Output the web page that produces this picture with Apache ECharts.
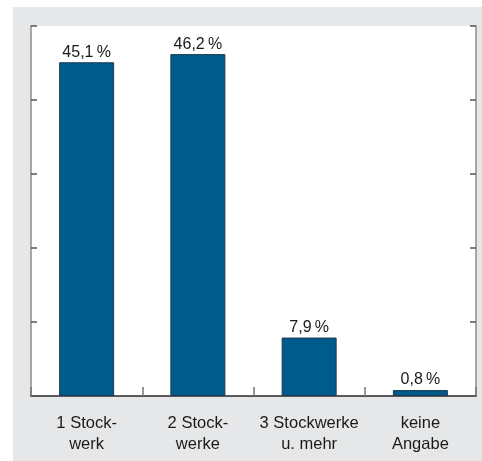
<!DOCTYPE html>
<html>
<head>
<meta charset="utf-8">
<style>
  html, body { margin: 0; padding: 0; background: #ffffff; }
  #chart { width: 482px; height: 461px; }
</style>
<script src="https://cdn.jsdelivr.net/npm/echarts@6/dist/echarts.min.js"></script>
</head>
<body>
<div id="chart"></div>
<script>
// Geschossigkeit: share of buildings by number of storeys
const categories = ['1 Stock-\nwerk', '2 Stock-\nwerke', '3 Stockwerke\nu. mehr', 'keine\nAngabe'];
const shares = [45.1, 46.2, 7.9, 0.8];
const valueTicks = [0, 10, 20, 30, 40, 50];

const fmt = v => v.toFixed(1).replace('.', ',') + '\u2009%';

const chart = echarts.init(document.getElementById('chart'));
const sideAxis = {
  type: 'value',
  min: valueTicks[0],
  max: valueTicks[valueTicks.length - 1],
  interval: valueTicks[1] - valueTicks[0],
  axisLine: { show: true, lineStyle: { color: '#8c8c8c', width: 1.5 } },
  axisTick: { show: true, inside: true, length: 6, lineStyle: { color: '#555', width: 1.5 } },
  axisLabel: { show: false },
  splitLine: { show: false }
};

chart.setOption({
  animation: false,
  backgroundColor: '#ffffff',
  graphic: [{
    type: 'rect',
    z: -10,
    shape: { x: 13, y: 7, width: 469, height: 454 },
    style: { fill: '#e6e7e8' }
  }],
  grid: {
    left: 31, right: 6, top: 26, bottom: 65,
    show: true, backgroundColor: '#ffffff', borderWidth: 0
  },
  xAxis: {
    type: 'category',
    data: categories,
    axisLine: { lineStyle: { color: '#2a2a2a', width: 1.5 } },
    axisTick: { show: true, inside: true, length: 9, alignWithLabel: false, lineStyle: { color: '#777', width: 1.5 } },
    axisLabel: {
      color: '#1a1a1a', fontFamily: 'Liberation Sans, Arial, sans-serif',
      fontSize: 16.5, lineHeight: 21, margin: 17, interval: 0
    }
  },
  yAxis: [
    Object.assign({ position: 'left' }, sideAxis),
    Object.assign({ position: 'right' }, sideAxis)
  ],
  series: [{
    type: 'bar',
    data: shares,
    barWidth: 55,
    itemStyle: { color: '#005b8d', borderColor: '#1e3a4f', borderWidth: 1 },
    label: {
      show: true, position: 'top', distance: 2,
      color: '#1a1a1a', fontFamily: 'Liberation Sans, Arial, sans-serif', fontSize: 16,
      formatter: p => fmt(p.value)
    }
  }]
});
</script>
</body>
</html>
